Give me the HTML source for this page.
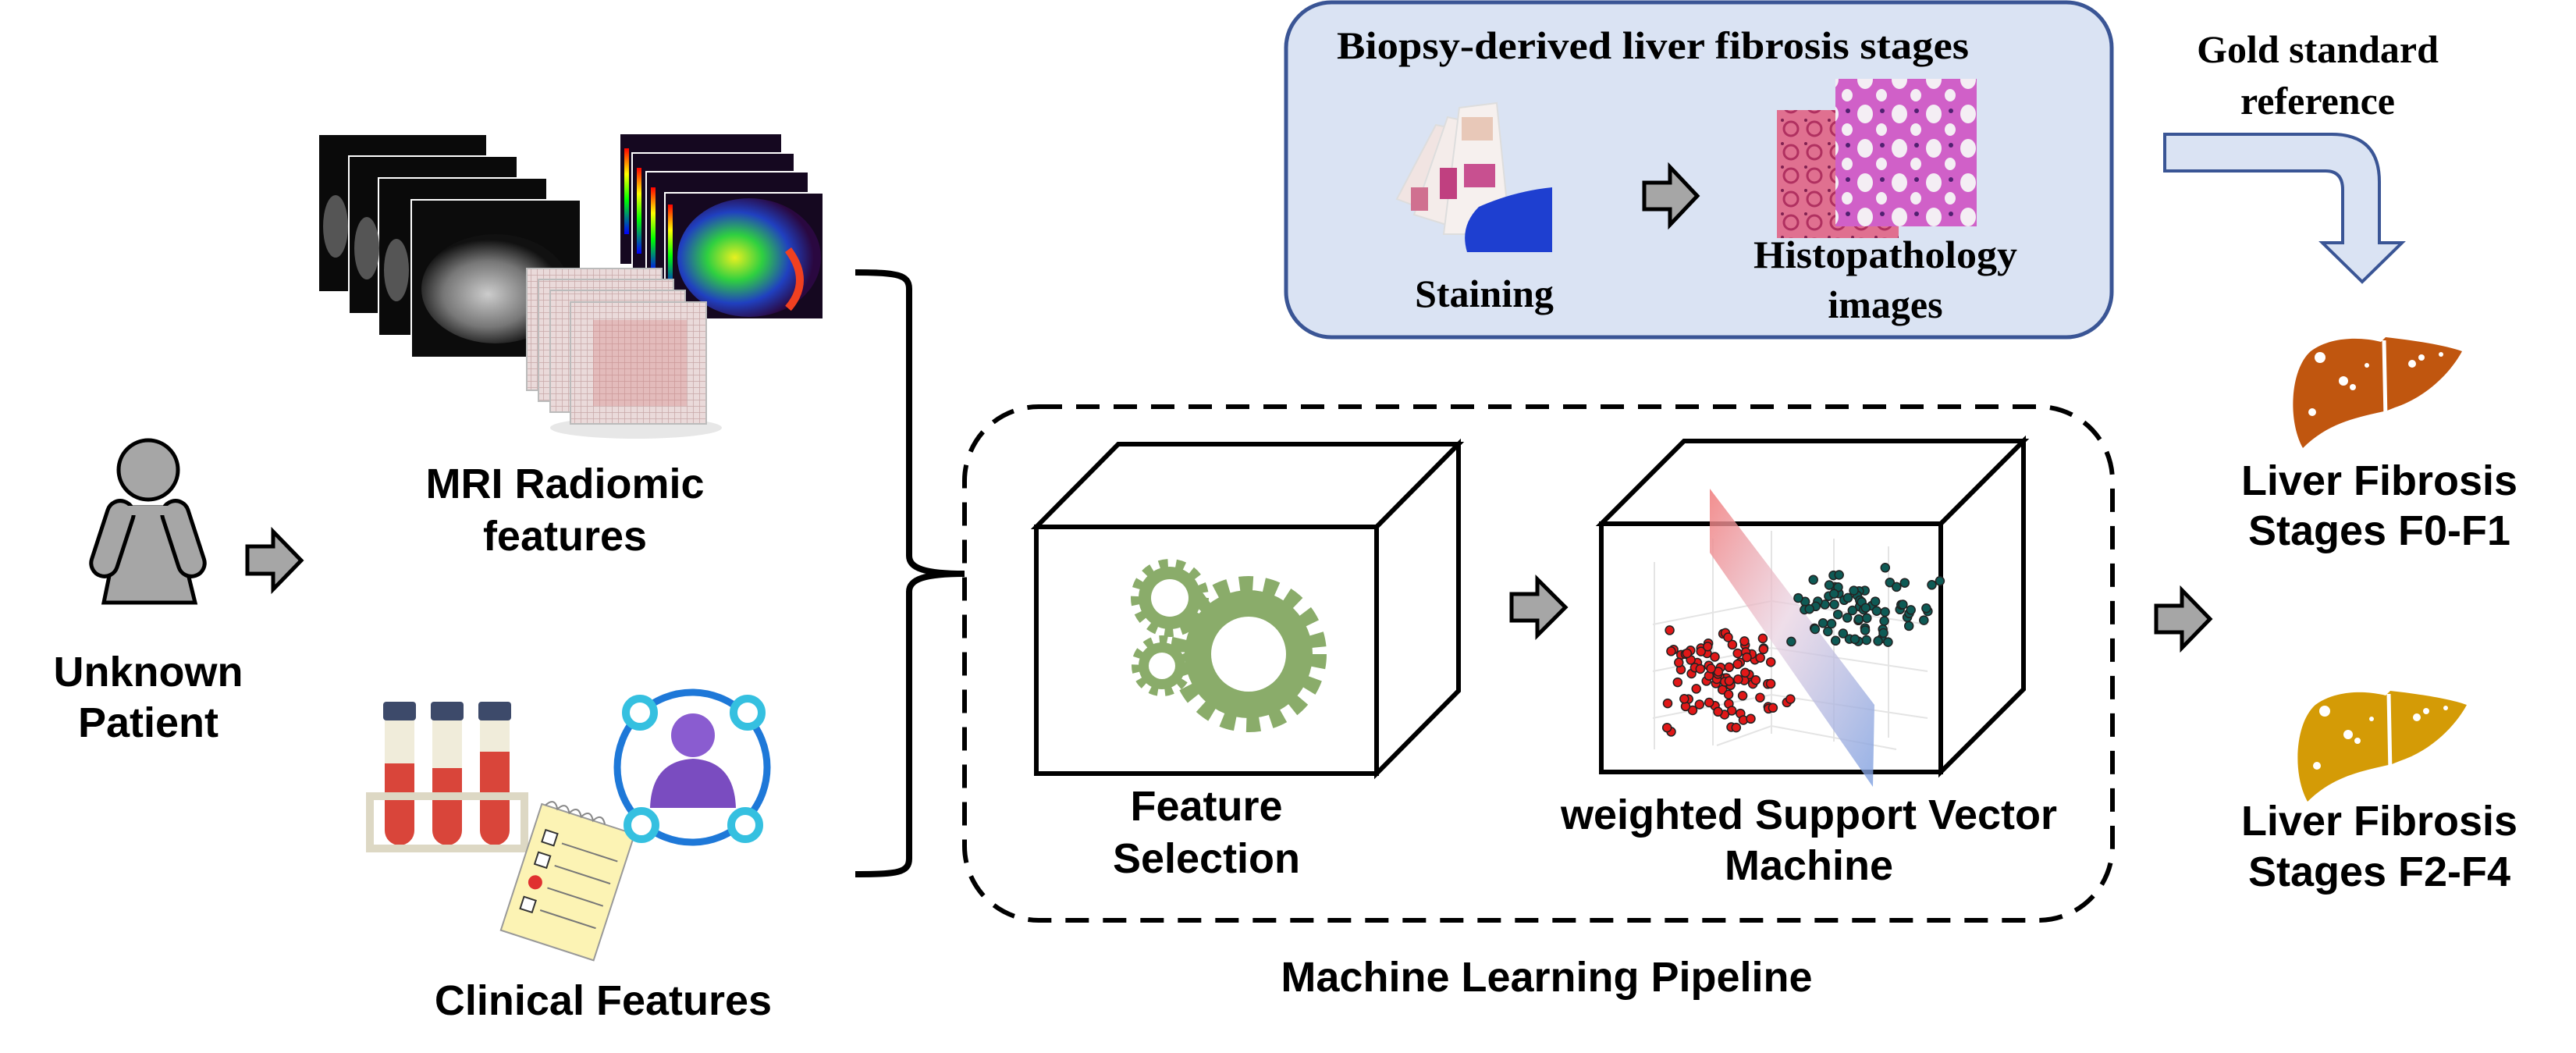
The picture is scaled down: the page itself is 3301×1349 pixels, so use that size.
<!DOCTYPE html>
<html><head><meta charset="utf-8"><style>
html,body{margin:0;padding:0;background:#fff;}
svg{display:block;}
.s{font-family:"Liberation Sans",Arial,sans-serif;font-weight:bold;font-size:54px;fill:#000;text-anchor:middle;}
.r{font-family:"Liberation Serif","Times New Roman",serif;font-weight:bold;font-size:50px;fill:#000;text-anchor:middle;}
</style></head><body>
<svg id="c" width="3301" height="1349" viewBox="0 0 3301 1349" xmlns="http://www.w3.org/2000/svg">
<defs>
<linearGradient id="pl" x1="0" y1="0" x2="1" y2="1">
<stop offset="0" stop-color="#f07a7a" stop-opacity="0.85"/><stop offset="0.45" stop-color="#e8d0e0" stop-opacity="0.7"/><stop offset="1" stop-color="#7b9ee0" stop-opacity="0.8"/></linearGradient>
<radialGradient id="mri" cx="0.45" cy="0.55" r="0.5"><stop offset="0" stop-color="#ccc"/><stop offset="0.6" stop-color="#777"/><stop offset="1" stop-color="#111"/></radialGradient>
<radialGradient id="heat" cx="0.4" cy="0.5" r="0.55"><stop offset="0" stop-color="#e8f020"/><stop offset="0.35" stop-color="#2fd040"/><stop offset="0.7" stop-color="#2040c0"/><stop offset="1" stop-color="#2a0840"/></radialGradient>
<linearGradient id="bar" x1="0" y1="0" x2="0" y2="1"><stop offset="0" stop-color="#f00"/><stop offset="0.3" stop-color="#ff0"/><stop offset="0.6" stop-color="#0f0"/><stop offset="1" stop-color="#00f"/></linearGradient>
<pattern id="grid" width="8" height="8" patternUnits="userSpaceOnUse"><rect width="8" height="8" fill="#eadada"/><path d="M0 0H8M0 0V8" stroke="#c8a8a8" stroke-width="1.5"/></pattern>
<pattern id="he1" width="30" height="30" patternUnits="userSpaceOnUse"><rect width="30" height="30" fill="#e07090"/><circle cx="15" cy="15" r="9" fill="none" stroke="#b03060" stroke-width="3"/><circle cx="4" cy="4" r="2" fill="#802050"/></pattern>
<pattern id="he2" width="44" height="44" patternUnits="userSpaceOnUse"><rect width="44" height="44" fill="#d060c8"/><ellipse cx="14" cy="14" rx="10" ry="12" fill="#f4eef4"/><ellipse cx="35" cy="34" rx="7" ry="8" fill="#f4eef4"/><circle cx="36" cy="10" r="3" fill="#502070"/></pattern>
</defs>

<rect x="1648" y="3" width="1058" height="429" rx="58" fill="#dae3f3" stroke="#3a5595" stroke-width="5"/>
<text class="r" x="2118" y="75" textLength="810" lengthAdjust="spacingAndGlyphs">Biopsy-derived liver fibrosis stages</text>
<g>
<polygon points="1790,255 1840,160 1880,168 1830,270" fill="#f1e4e2" stroke="#ddd" stroke-width="2"/>
<polygon points="1812,275 1855,150 1900,160 1860,290" fill="#f4ecea" stroke="#ddd" stroke-width="2"/>
<polygon points="1850,300 1870,138 1918,132 1935,300" fill="#f6f0ee" stroke="#ddd" stroke-width="2"/>
<rect x="1873" y="150" width="40" height="30" fill="#e8c8b8"/>
<rect x="1876" y="210" width="40" height="30" fill="#c85090"/>
<rect x="1845" y="215" width="22" height="40" fill="#c04080"/>
<rect x="1808" y="240" width="22" height="30" fill="#d07090"/>
<path d="M1895,265 Q1940,245 1989,240 L1989,323 L1880,323 Q1870,290 1895,265 Z" fill="#1e3fd0"/>
</g>
<text class="r" x="1902" y="393" font-size="48">Staining</text>
<path d="M2107,234 L2140,234 L2140,214 L2175,251 L2140,288 L2140,268 L2107,268 Z" fill="#a6a6a6" stroke="#000" stroke-width="5" stroke-linejoin="miter"/>
<rect x="2277" y="141" width="156" height="164" fill="url(#he1)"/>
<rect x="2352" y="101" width="181" height="189" fill="url(#he2)"/>
<text class="r" x="2416" y="343" textLength="338" lengthAdjust="spacingAndGlyphs">Histopathology</text>
<text class="r" x="2416" y="407">images</text>

<text class="r" x="2970" y="80">Gold standard</text>
<text class="r" x="2970" y="146">reference</text>
<path d="M2774,172 L2988,172 Q3049,172 3049,233 L3049,311 L3078,311 L3027,361 L2976,311 L3002,311 L3002,243 Q3002,219 2980,219 L2774,219 Z" fill="#dae3f3" stroke="#3a5595" stroke-width="4"/>

<g stroke="#000" stroke-width="5" fill="#a6a6a6">
<path d="M158,650 L220,650 L250,772 L133,772 Z"/>
<rect x="127" y="640" width="34" height="100" rx="17" transform="rotate(18 144 690)"/>
<rect x="218" y="640" width="34" height="100" rx="17" transform="rotate(-18 235 690)"/>
<circle cx="190" cy="602" r="38"/>
</g>
<rect x="163" y="648" width="54" height="12" fill="#a6a6a6"/>
<path d="M317,700 L350,700 L350,681 L386,718 L350,755 L350,735 L317,735 Z" fill="#a6a6a6" stroke="#000" stroke-width="5"/>
<text class="s" x="190" y="879">Unknown</text>
<text class="s" x="190" y="944">Patient</text>

<g stroke="#fff" stroke-width="2">
<rect x="408" y="172" width="216" height="202" fill="#0a0a0a"/>
<rect x="447" y="200" width="216" height="202" fill="#0a0a0a"/>
<rect x="485" y="228" width="216" height="202" fill="#0a0a0a"/>
<rect x="527" y="256" width="217" height="202" fill="#0c0c0c"/>
</g>
<ellipse cx="430" cy="290" rx="16" ry="40" fill="#555"/>
<ellipse cx="470" cy="318" rx="16" ry="40" fill="#555"/>
<ellipse cx="508" cy="346" rx="16" ry="40" fill="#555"/>
<ellipse cx="635" cy="370" rx="95" ry="70" fill="url(#mri)"/>
<g stroke="#fff" stroke-width="2">
<rect x="794" y="171" width="208" height="168" fill="#150820"/>
<rect x="810" y="196" width="208" height="168" fill="#150820"/>
<rect x="828" y="220" width="208" height="168" fill="#150820"/>
<rect x="852" y="247" width="203" height="162" fill="#150820"/>
</g>
<rect x="800" y="190" width="6" height="110" fill="url(#bar)"/>
<rect x="816" y="215" width="6" height="110" fill="url(#bar)"/>
<rect x="834" y="240" width="6" height="110" fill="url(#bar)"/>
<rect x="856" y="262" width="6" height="110" fill="url(#bar)"/>
<ellipse cx="960" cy="330" rx="92" ry="76" fill="url(#heat)"/>
<path d="M1010,320 Q1040,360 1010,395" stroke="#f04020" stroke-width="10" fill="none"/>
<ellipse cx="815" cy="548" rx="110" ry="14" fill="#ddd" opacity="0.7"/>
<g stroke="#bbb" stroke-width="2">
<rect x="675" y="344" width="173" height="156" fill="url(#grid)"/>
<rect x="690" y="358" width="173" height="156" fill="url(#grid)"/>
<rect x="705" y="372" width="173" height="156" fill="url(#grid)"/>
<rect x="731" y="387" width="174" height="156" fill="url(#grid)"/>
</g>
<rect x="760" y="410" width="120" height="110" fill="#d88080" opacity="0.35"/>
<text class="s" x="724" y="638">MRI Radiomic</text>
<text class="s" x="724" y="705">features</text>

<g>
<rect x="493" y="905" width="38" height="178" rx="19" fill="#f0ecda"/>
<rect x="554" y="905" width="38" height="178" rx="19" fill="#f0ecda"/>
<rect x="615" y="905" width="38" height="178" rx="19" fill="#f0ecda"/>
<path d="M493,978 H531 V1064 A19,19 0 0 1 493,1064 Z" fill="#d9453a"/>
<path d="M554,984 H592 V1064 A19,19 0 0 1 554,1064 Z" fill="#d9453a"/>
<path d="M615,963 H653 V1064 A19,19 0 0 1 615,1064 Z" fill="#d9453a"/>
<rect x="491" y="899" width="42" height="24" rx="4" fill="#3d4a6a"/>
<rect x="552" y="899" width="42" height="24" rx="4" fill="#3d4a6a"/>
<rect x="613" y="899" width="42" height="24" rx="4" fill="#3d4a6a"/>
<rect x="474" y="1020" width="198" height="67" fill="none" stroke="#ddd8c4" stroke-width="10"/>
</g>
<g transform="rotate(18 727 1130)">
<rect x="665" y="1045" width="125" height="170" fill="#fcf3b4" stroke="#999" stroke-width="2"/>
<g stroke="#777" stroke-width="2"><line x1="705" y1="1085" x2="780" y2="1085"/><line x1="705" y1="1115" x2="780" y2="1115"/><line x1="705" y1="1145" x2="780" y2="1145"/><line x1="705" y1="1175" x2="780" y2="1175"/></g>
<g fill="#fff" stroke="#333" stroke-width="2"><rect x="680" y="1075" width="16" height="16"/><rect x="680" y="1105" width="16" height="16"/><rect x="680" y="1165" width="16" height="16"/></g>
<circle cx="688" cy="1143" r="9" fill="#e03030"/>
<path d="M670,1045 q8,-14 16,0 q8,-14 16,0 q8,-14 16,0 q8,-14 16,0 q8,-14 16,0" fill="none" stroke="#888" stroke-width="2"/>
</g>
<circle cx="887" cy="983" r="96" fill="none" stroke="#1e78d8" stroke-width="9"/>
<g fill="#fff" stroke="#35c0e0" stroke-width="10">
<circle cx="820" cy="913" r="18"/><circle cx="958" cy="913" r="18"/><circle cx="822" cy="1057" r="18"/><circle cx="955" cy="1057" r="18"/>
</g>
<circle cx="888" cy="942" r="28" fill="#8a5cd0"/>
<path d="M833,1035 Q835,975 888,972 Q941,975 943,1035 Z" fill="#7a4cc0"/>
<text class="s" x="773" y="1300">Clinical Features</text>

<path d="M1096,349 C1150,349 1165,352 1165,370 L1165,712 C1165,728 1185,735 1236,735 C1185,735 1165,742 1165,758 L1165,1100 C1165,1118 1150,1120 1096,1120" fill="none" stroke="#000" stroke-width="8"/>

<rect x="1236" y="521" width="1471" height="658" rx="95" fill="none" stroke="#000" stroke-width="6" stroke-dasharray="30 18"/>

<g fill="#fff" stroke="#000" stroke-width="6" stroke-linejoin="miter">
<polygon points="1328,675 1433,569 1869,569 1764,675"/>
<polygon points="1764,675 1869,569 1869,885 1764,991"/>
<rect x="1328" y="675" width="436" height="316"/>
</g>
<g fill="#8aac6a">
<circle cx="1600" cy="838" r="88" fill="none" stroke="#8aac6a" stroke-width="24" stroke-dasharray="17 14"/>
<circle cx="1600" cy="838" r="82"/>
<circle cx="1600" cy="838" r="48" fill="#fff"/>
<circle cx="1499" cy="766" r="43" fill="none" stroke="#8aac6a" stroke-width="14" stroke-dasharray="11 10"/>
<circle cx="1499" cy="766" r="40"/>
<circle cx="1499" cy="766" r="24" fill="#fff"/>
<circle cx="1489" cy="853" r="33" fill="none" stroke="#8aac6a" stroke-width="12" stroke-dasharray="10 9"/>
<circle cx="1489" cy="853" r="30"/>
<circle cx="1489" cy="853" r="17" fill="#fff"/>
</g>
<text class="s" x="1546" y="1051">Feature</text>
<text class="s" x="1546" y="1118">Selection</text>

<path d="M1937,761 L1970,761 L1970,742 L2006,778 L1970,814 L1970,795 L1937,795 Z" fill="#a6a6a6" stroke="#000" stroke-width="5"/>

<g fill="#fff" stroke="#000" stroke-width="6">
<polygon points="2052,671 2158,565 2593,565 2487,671"/>
<polygon points="2487,671 2593,565 2593,883 2487,989"/>
<rect x="2052" y="671" width="435" height="318"/>
</g>
<g id="scat">
<g stroke="#e4e4e4" stroke-width="2" fill="none">
<path d="M2120,720 L2120,960 M2195,690 L2195,955 M2270,680 L2270,940 M2350,690 L2350,950 M2420,700 L2420,945"/>
<path d="M2118,800 L2270,770 L2470,800 M2118,860 L2270,830 L2470,860 M2118,920 L2270,890 L2470,920 M2200,955 L2270,930 L2430,960"/>
</g>
<polygon points="2191,626 2191,708 2400,1008 2402,903" fill="url(#pl)"/>
</g>
<text class="s" x="2318" y="1062">weighted Support Vector</text>
<text class="s" x="2318" y="1127">Machine</text>
<text class="s" x="1982" y="1270">Machine Learning Pipeline</text>

<path d="M2763,776 L2796,776 L2796,756 L2832,793 L2796,830 L2796,810 L2763,810 Z" fill="#a6a6a6" stroke="#000" stroke-width="5"/>

<g transform="translate(2933,428)">
<path d="M18,146 C-2,110 2,45 28,22 C55,2 95,4 118,10 L124,4 C160,8 200,14 222,22 C208,48 178,80 136,94 L126,98 C92,106 52,112 18,146 Z" fill="#c0560f"/>
<path d="M122,8 L124,108" stroke="#fff" stroke-width="5"/>
<g fill="#fff"><circle cx="70" cy="60" r="6"/><circle cx="82" cy="68" r="4"/><circle cx="40" cy="30" r="7"/><circle cx="158" cy="38" r="5"/><circle cx="170" cy="30" r="4"/><circle cx="30" cy="100" r="5"/><circle cx="100" cy="40" r="3"/><circle cx="195" cy="26" r="3"/></g>
</g>
<text class="s" x="3049" y="634">Liver Fibrosis</text>
<text class="s" x="3049" y="698">Stages F0-F1</text>
<g transform="translate(2939,881)">
<path d="M18,146 C-2,110 2,45 28,22 C55,2 95,4 118,10 L124,4 C160,8 200,14 222,22 C208,48 178,80 136,94 L126,98 C92,106 52,112 18,146 Z" fill="#d49b06"/>
<path d="M122,8 L124,108" stroke="#fff" stroke-width="5"/>
<g fill="#fff"><circle cx="70" cy="60" r="6"/><circle cx="82" cy="68" r="4"/><circle cx="40" cy="30" r="7"/><circle cx="158" cy="38" r="5"/><circle cx="170" cy="30" r="4"/><circle cx="30" cy="100" r="5"/><circle cx="100" cy="40" r="3"/><circle cx="195" cy="26" r="3"/></g>
</g>
<text class="s" x="3049" y="1070">Liver Fibrosis</text>
<text class="s" x="3049" y="1135">Stages F2-F4</text>
</svg>
<script>
(function(){
var g=document.getElementById('scat'),ns='http://www.w3.org/2000/svg',s=7;
function r(){s=(s*9301+49297)%233280;return s/233280;}
function n(){return r()+r()-1;}
function dot(x,y,c){var e=document.createElementNS(ns,'circle');e.setAttribute('cx',x.toFixed(1));e.setAttribute('cy',y.toFixed(1));e.setAttribute('r',5.5);e.setAttribute('fill',c);e.setAttribute('stroke','#222');e.setAttribute('stroke-width','1.5');g.appendChild(e);}
for(var i=0;i<95;i++)dot(2215+n()*95,872+n()*72,'#e01818');
for(var i=0;i<75;i++)dot(2385+n()*105,785+n()*60,'#0e5a55');
})();
</script>
</body></html>
